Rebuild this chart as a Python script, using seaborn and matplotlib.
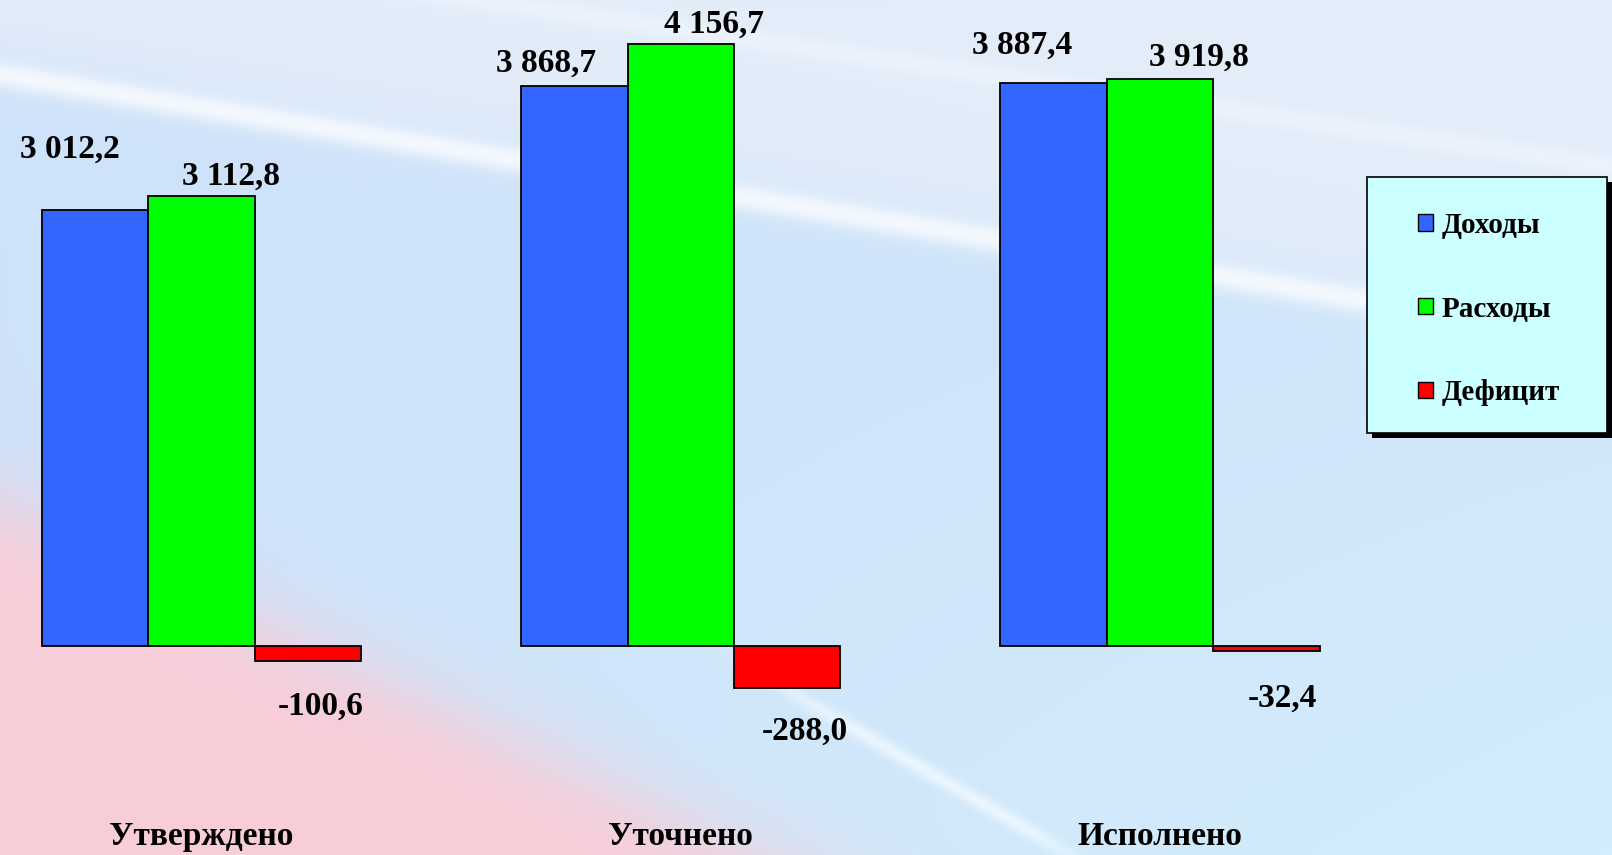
import numpy as np
import pandas as pd
import matplotlib
matplotlib.use("Agg")
import matplotlib.pyplot as plt
from matplotlib.patches import Patch, Rectangle
from matplotlib.transforms import blended_transform_factory
import seaborn as sns

# Данные
categories = ["Утверждено", "Уточнено", "Исполнено"]
series = ["Доходы", "Расходы", "Дефицит"]
dohody = [3012.2, 3868.7, 3887.4]
rashody = [3112.8, 4156.7, 3919.8]
deficit = [-100.6, -288.0, -32.4]

colors = {"Доходы": "#3366FF", "Расходы": "#00FF00", "Дефицит": "#FF0000"}

# смещения подписей (пиксели) от конца столбца
label_offsets = {
    "Доходы": [(-25, 61), (-28, 23), (-32, 38)],
    "Расходы": [(30, 19), (33, 20), (39, 21)],
    "Дефицит": [(13, -46), (18, -44), (16, -48)],
}

df = pd.DataFrame({
    "cat": categories * 3,
    "series": [s for s in series for _ in categories],
    "value": dohody + rashody + deficit,
})

W, H = 1612, 855


def sigmoid(z):
    return 1 / (1 + np.exp(-z))


def make_background():
    yy, xx = np.mgrid[0:H, 0:W].astype(float)
    img = np.ones((H, W, 3)) * np.array([206, 226, 249]) / 255

    def blend(w, col):
        col = np.array(col) / 255
        return img * (1 - w[..., None]) + col * w[..., None]

    # светлее к правому нижнему углу
    img = blend(np.clip(xx / W * yy / H, 0, 1) * 0.8, (212, 240, 252))
    # светлая зона сверху
    yA = 75 + 0.165 * xx
    img = blend(sigmoid((yA - 15 - yy) / 20) * 0.75, (234, 240, 249))
    # белая полоса
    img = blend(np.exp(-((yy - yA) / 13) ** 2) * 0.85, (250, 252, 255))
    img = blend(np.exp(-((yy - (-70 + 0.147 * xx)) / 10) ** 2) * 0.4, (250, 252, 255))
    # розовая часть
    s = (xx * 355 - (yy - 500) * 760) / np.hypot(355, 760)
    img = blend(sigmoid(-s / 22) * 0.95, (250, 204, 214))
    # диагональный блик снизу
    d = (yy - (701 + 0.58 * (xx - 806))) / 9
    fade = np.clip((xx - 700) / 150, 0, 1) * np.clip((1120 - xx) / 100, 0, 1)
    img = blend(np.exp(-d ** 2) * 0.7 * fade, (245, 252, 255))
    return np.clip(img, 0, 1)


sns.set_theme(style="white")
plt.rcParams["font.family"] = ["Liberation Serif", "DejaVu Serif"]
plt.rcParams["font.weight"] = "bold"

fig = plt.figure(figsize=(W / 100, H / 100), dpi=100)
bg = fig.add_axes([0, 0, 1, 1])
bg.imshow(make_background(), aspect="auto", extent=[0, W, H, 0])
bg.axis("off")

ax = fig.add_axes([0, 0, 1, 1])
ax.patch.set_alpha(0)
sns.barplot(data=df, x="cat", y="value", hue="series", palette=colors,
            width=0.666, saturation=1, edgecolor="black", linewidth=1.3,
            ax=ax, legend=False)
ax.set_xlim(-0.4204, 2.943)
ax.set_ylim(-1444, 4464)
ax.axis("off")

values = {"Доходы": dohody, "Расходы": rashody, "Дефицит": deficit}
for cont, ser in zip(ax.containers, series):
    for bar, val, (dx, dy) in zip(cont, values[ser], label_offsets[ser]):
        txt = f"{val:,.1f}".replace(",", " ").replace(".", ",")
        ax.annotate(txt, (bar.get_x() + bar.get_width() / 2, val),
                    xytext=(dx, dy), textcoords="offset pixels",
                    ha="center", va="center", fontsize=24, fontweight="bold",
                    color="black")

trans = blended_transform_factory(ax.transData, ax.transAxes)
for i, cat in enumerate(categories):
    ax.text(i, 1 - 836 / H, cat, transform=trans, ha="center", va="center",
            fontsize=24, fontweight="bold", color="black")

# рамка легенды с тенью
x0, x1, y0, y1 = 1367, 1607, 177, 433
fig.add_artist(Rectangle(((x0 + 5) / W, 1 - (y1 + 5) / H), (x1 - x0) / W, (y1 - y0) / H,
                         transform=fig.transFigure, facecolor="black", edgecolor="none"))
fig.add_artist(Rectangle((x0 / W, 1 - y1 / H), (x1 - x0) / W, (y1 - y0) / H,
                         transform=fig.transFigure, facecolor="#CCFFFF", edgecolor="black",
                         linewidth=1.2))

handles = [Patch(facecolor=colors[s], edgecolor="black", label=s) for s in series]
leg = fig.legend(handles=handles, loc="center",
                 bbox_to_anchor=((x0 + x1) / 2 / W + 2 / W, 1 - ((y0 + y1) / 2 + 4) / H),
                 frameon=False, prop={"size": 21, "weight": "bold"},
                 handlelength=0.5, handleheight=0.5, handletextpad=0.3,
                 labelspacing=1.95, labelcolor="black")
leg.set_zorder(10)

plt.savefig("out.png", dpi=100)
